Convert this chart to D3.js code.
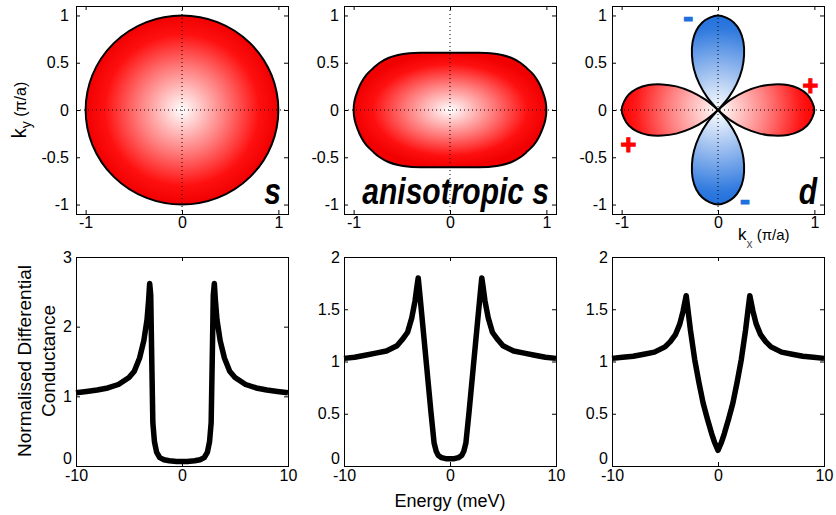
<!DOCTYPE html>
<html>
<head>
<meta charset="utf-8">
<script src="https://cdn.jsdelivr.net/npm/d3@7"></script>
<style>
  body { margin: 0; background: #fff; }
  svg text { font-family: "Liberation Sans", Arial, sans-serif; }
</style>
</head>
<body>
<div id="chart"></div>
<script>
//Datos - fila superior (gap en el espacio k)
const kTicksX = [-1, 0, 1];
const kTicksY = [-1, -0.5, 0, 0.5, 1];
const sGapRadius = 1;
const anisoKx = [1.00, 0.99, 0.96, 0.92, 0.87, 0.80, 0.73, 0.64, 0.54, 0.42, 0.28, 0.14, 0.00,
  -0.14, -0.28, -0.42, -0.54, -0.64, -0.73, -0.80, -0.87, -0.92, -0.96, -0.99, -1.00,
  -0.99, -0.96, -0.92, -0.87, -0.80, -0.73, -0.64, -0.54, -0.42, -0.28, -0.14, 0.00,
  0.14, 0.28, 0.42, 0.54, 0.64, 0.73, 0.80, 0.87, 0.92, 0.96, 0.99];
const anisoKy = [0.00, 0.10, 0.20, 0.29, 0.37, 0.44, 0.50, 0.55, 0.582, 0.600, 0.605, 0.605, 0.605,
  0.605, 0.605, 0.600, 0.582, 0.55, 0.50, 0.44, 0.37, 0.29, 0.20, 0.10, 0.00,
  -0.10, -0.20, -0.29, -0.37, -0.44, -0.50, -0.55, -0.582, -0.600, -0.605, -0.605, -0.605,
  -0.605, -0.605, -0.600, -0.582, -0.55, -0.50, -0.44, -0.37, -0.29, -0.20, -0.10];
//lóbulo d: ángulo relativo al eje del lóbulo (grados) y radio
const dLobeAngle = [-45, -40, -35, -30, -25, -20, -15, -10, -5, 0, 5, 10, 15, 20, 25, 30, 35, 40, 45];
const dLobeRadius = [0, 0.17, 0.34, 0.5, 0.64, 0.77, 0.87, 0.94, 0.98, 1, 0.98, 0.94, 0.87, 0.77, 0.64, 0.5, 0.34, 0.17, 0];
const dLobeAxis = [0, 90, 180, 270];
const dLobeSign = ['+', '-', '+', '-'];
const signText = ['+', '+', '-', '-'];
const signKx = [0.96, -0.93, -0.31, 0.28];
const signKy = [0.26, -0.37, 0.97, -0.96];
const gapLabels = ['s', 'anisotropic s', 'd'];

//Datos - fila inferior (conductancia)
const energyTicks = [-10, 0, 10];
const condTicks = [[0, 1, 2, 3], [0, 0.5, 1, 1.5, 2], [0, 0.5, 1, 1.5, 2]];
const condMax = [3, 2, 2];

const energyS = [-10, -9, -8, -7, -6, -5, -4.5, -4, -3.6, -3.3, -3.15, -3.05, -2.95, -2.85, -2.75, -2.6, -2.4, -2.1, -1.7, -1.2, -0.5, 0,
  0.5, 1.2, 1.7, 2.1, 2.4, 2.6, 2.75, 2.85, 2.95, 3.05, 3.15, 3.3, 3.6, 4, 4.5, 5, 6, 7, 8, 9, 10];
const condS = [1.05, 1.07, 1.09, 1.12, 1.17, 1.27, 1.36, 1.55, 1.8, 2.1, 2.38, 2.62, 2.45, 1.5, 0.62, 0.35, 0.2, 0.12, 0.09, 0.075, 0.065, 0.065,
  0.065, 0.075, 0.09, 0.12, 0.2, 0.35, 0.62, 1.5, 2.45, 2.62, 2.38, 2.1, 1.8, 1.55, 1.36, 1.27, 1.17, 1.12, 1.09, 1.07, 1.05];

const energyA = [-10, -9, -8, -7, -6, -5, -4.5, -4, -3.6, -3.3, -3.1, -3.0, -2.9, -2.6, -2.2, -1.8, -1.5, -1.3, -1.1, -0.8, -0.4, 0,
  0.4, 0.8, 1.1, 1.3, 1.5, 1.8, 2.2, 2.6, 2.9, 3.0, 3.1, 3.3, 3.6, 4, 4.5, 5, 6, 7, 8, 9, 10];
const condA = [1.03, 1.04, 1.06, 1.08, 1.1, 1.15, 1.21, 1.28, 1.42, 1.58, 1.73, 1.8, 1.7, 1.38, 0.95, 0.52, 0.22, 0.14, 0.1, 0.08, 0.07, 0.07,
  0.07, 0.08, 0.1, 0.14, 0.22, 0.52, 0.95, 1.38, 1.7, 1.8, 1.73, 1.58, 1.42, 1.28, 1.21, 1.15, 1.1, 1.08, 1.06, 1.04, 1.03];

const energyD = [-10, -9, -8, -7, -6, -5, -4.5, -4, -3.6, -3.3, -3.1, -3.0, -2.9, -2.6, -2.2, -1.8, -1.4, -1.0, -0.6, -0.3, 0,
  0.3, 0.6, 1.0, 1.4, 1.8, 2.2, 2.6, 2.9, 3.0, 3.1, 3.3, 3.6, 4, 4.5, 5, 6, 7, 8, 9, 10];
const condD = [1.03, 1.04, 1.05, 1.07, 1.09, 1.14, 1.19, 1.26, 1.36, 1.48, 1.58, 1.63, 1.55, 1.3, 1.02, 0.8, 0.6, 0.45, 0.31, 0.22, 0.15,
  0.22, 0.31, 0.45, 0.6, 0.8, 1.02, 1.3, 1.55, 1.63, 1.58, 1.48, 1.36, 1.26, 1.19, 1.14, 1.09, 1.07, 1.05, 1.04, 1.03];

const curves = [[energyS, condS], [energyA, condA], [energyD, condD]];

//Colores
const RED = '#ff0000', BLUE = '#1f6fdc';

//Layout
const colLeft = [76, 344, 612], panelW = 212;
const topY = 6, topH = 208, botY = 257, botH = 209;

let svg = d3.select('#chart').append('svg')
  .attr('width', 836).attr('height', 515);
let defs = svg.append('defs');

function radial(id, stops, extra) {
  let g = defs.append('radialGradient').attr('id', id);
  Object.keys(extra || {}).forEach(k => g.attr(k, extra[k]));
  stops.forEach(s => g.append('stop').attr('offset', s[0]).attr('stop-color', s[1]));
}
radial('gS', [[0, '#ffffff'], [0.45, '#ff7c7c'], [0.8, '#ff1010'], [1, '#f00000']], {cx: '50%', cy: '50%', r: '50%'});
radial('gA', [[0, '#ffffff'], [0.45, '#ff7c7c'], [0.8, '#ff1010'], [1, '#f00000']], {cx: '50%', cy: '50%', r: '50%'});

function styleAxis(g) {
  g.attr('font-size', 16).attr('font-family', '"Liberation Sans", Arial, sans-serif');
  g.select('.domain').remove();
  g.selectAll('.tick line').attr('stroke', '#000');
  g.selectAll('.tick text').attr('fill', '#000');
}

function drawFrame(x, y, xt, yt, left, top, w, h, padLeft, padBottom) {
  let fmt = d => String(d);
  svg.append('g').attr('transform', `translate(0,${top + h})`)
    .call(d3.axisBottom(x).tickValues(xt).tickSize(-4).tickPadding(padBottom).tickFormat(fmt)).call(styleAxis);
  svg.append('g').attr('transform', `translate(0,${top})`)
    .call(d3.axisTop(x).tickValues(xt).tickSize(-4).tickFormat('')).call(styleAxis);
  let ly = svg.append('g').attr('transform', `translate(${left},0)`)
    .call(d3.axisLeft(y).tickValues(yt).tickSize(-4).tickPadding(padLeft).tickFormat(fmt)).call(styleAxis);
  svg.append('g').attr('transform', `translate(${left + w},0)`)
    .call(d3.axisRight(y).tickValues(yt).tickSize(-4).tickFormat('')).call(styleAxis);
  svg.append('rect').attr('x', left + 0.5).attr('y', top + 0.5).attr('width', w).attr('height', h)
    .attr('fill', 'none').attr('stroke', '#000').attr('stroke-width', 1);
  return ly;
}

///// FILA SUPERIOR
colLeft.forEach(function(left, i) {
  let x = d3.scaleLinear().domain([-1.1, 1.1]).range([left, left + panelW]);
  let y = d3.scaleLinear().domain([-1.1, 1.1]).range([topY + topH, topY]);
  let ptLine = d3.line().x(d => x(d[0])).y(d => y(d[1]));

  if (i == 0) {
    svg.append('ellipse')
      .attr('cx', x(0)).attr('cy', y(0))
      .attr('rx', x(sGapRadius) - x(0)).attr('ry', y(0) - y(sGapRadius))
      .attr('fill', 'url(#gS)').attr('stroke', '#000').attr('stroke-width', 2);
  } else if (i == 1) {
    let pts = anisoKx.map((kx, j) => [kx, anisoKy[j]]);
    svg.append('path')
      .attr('d', ptLine.curve(d3.curveCatmullRomClosed)(pts))
      .attr('fill', 'url(#gA)').attr('stroke', '#000').attr('stroke-width', 2);
  } else {
    let rr = x(1) - x(0);
    radial('gDr', [[0, '#ffffff'], [0.5, '#ff8080'], [0.85, '#ff1a1a'], [1, RED]], {gradientUnits: 'userSpaceOnUse', cx: x(0), cy: y(0), r: rr});
    radial('gDb', [[0, '#ffffff'], [0.5, '#86b0ec'], [0.85, '#2f79de'], [1, BLUE]], {gradientUnits: 'userSpaceOnUse', cx: x(0), cy: y(0), r: rr});
    dLobeAxis.forEach(function(ax, k) {
      let pts = dLobeAngle.map(function(a, j) {
        let t = (a + ax) * Math.PI / 180;
        return [dLobeRadius[j] * Math.cos(t), dLobeRadius[j] * Math.sin(t)];
      });
      svg.append('path')
        .attr('d', ptLine.curve(d3.curveCatmullRom)(pts) + 'Z')
        .attr('fill', dLobeSign[k] == '+' ? 'url(#gDr)' : 'url(#gDb)')
        .attr('stroke', '#000').attr('stroke-width', 2).attr('stroke-linejoin', 'round');
    });
    //signos
    signText.forEach(function(s, k) {
      svg.append('text')
        .attr('x', x(signKx[k])).attr('y', y(signKy[k]))
        .attr('dy', s == '+' ? '0.34em' : '0.3em')
        .attr('text-anchor', 'middle')
        .attr('font-size', s == '+' ? 27 : 30).attr('font-weight', 'bold')
        .attr('fill', s == '+' ? RED : BLUE).attr('stroke', s == '+' ? RED : BLUE).attr('stroke-width', 1.2)
        .text(s);
    });
  }

  //líneas punteadas en cero
  svg.append('line').attr('x1', x(0)).attr('x2', x(0)).attr('y1', topY).attr('y2', topY + topH)
    .attr('stroke', '#000').attr('stroke-width', 1).attr('stroke-dasharray', '1,3');
  svg.append('line').attr('x1', left).attr('x2', left + panelW).attr('y1', y(0)).attr('y2', y(0))
    .attr('stroke', '#000').attr('stroke-width', 1).attr('stroke-dasharray', '1,3');

  drawFrame(x, y, kTicksX, kTicksY, left, topY, panelW, topH, i == 0 ? 7 : 5, 3);

  //etiqueta del tipo de gap
  svg.append('text')
    .attr('transform', `translate(${left + panelW - 7},${topY + topH - 10}) scale(1,1.2)`)
    .attr('text-anchor', 'end')
    .attr('font-size', 30).attr('font-weight', 'bold').attr('font-style', 'italic')
    .attr('fill', '#000')
    .text(gapLabels[i]);
});

///// FILA INFERIOR
colLeft.forEach(function(left, i) {
  let x = d3.scaleLinear().domain([-10, 10]).range([left, left + panelW]);
  let y = d3.scaleLinear().domain([0, condMax[i]]).range([botY + botH, botY]);
  let pts = curves[i][0].map((e, j) => [e, curves[i][1][j]]);

  svg.append('path')
    .attr('d', d3.line().x(d => x(d[0])).y(d => y(d[1]))(pts))
    .attr('fill', 'none').attr('stroke', '#000').attr('stroke-width', 5.5)
    .attr('stroke-linejoin', 'round');

  let ly = drawFrame(x, y, energyTicks, condTicks[i], left, botY, panelW, botH, 4, 4);
  //el "0" del eje y queda justo encima del "-10"
  ly.selectAll('.tick text').filter(d => d == 0).attr('dy', '-0.17em');
});

///// ETIQUETAS DE EJES
let ky = svg.append('text')
  .attr('transform', 'translate(26,110) rotate(-90)')
  .attr('text-anchor', 'middle').attr('fill', '#000');
ky.append('tspan').attr('font-size', 20).text('k');
ky.append('tspan').attr('font-size', 14).attr('dy', 5).text('y');
ky.append('tspan').attr('font-size', 16).attr('dy', -5).text(' (π/a)');

let kx = svg.append('text')
  .attr('x', 738).attr('y', 240).attr('fill', '#000');
kx.append('tspan').attr('font-size', 17).text('k');
kx.append('tspan').attr('font-size', 12).attr('dy', 8).attr('fill', '#555').text('x');
kx.append('tspan').attr('font-size', 15).attr('dy', -8).text(' (π/a)');

let cl = svg.append('text')
  .attr('transform', 'translate(31,361) rotate(-90)')
  .attr('text-anchor', 'middle').attr('font-size', 19).attr('fill', '#000');
cl.append('tspan').attr('x', 0).attr('dy', 0).text('Normalised Differential');
cl.append('tspan').attr('x', 0).attr('dy', 24).text('Conductance');

svg.append('text')
  .attr('x', 450).attr('y', 507)
  .attr('text-anchor', 'middle').attr('font-size', 18).attr('fill', '#000')
  .text('Energy (meV)');
</script>
</body>
</html>
